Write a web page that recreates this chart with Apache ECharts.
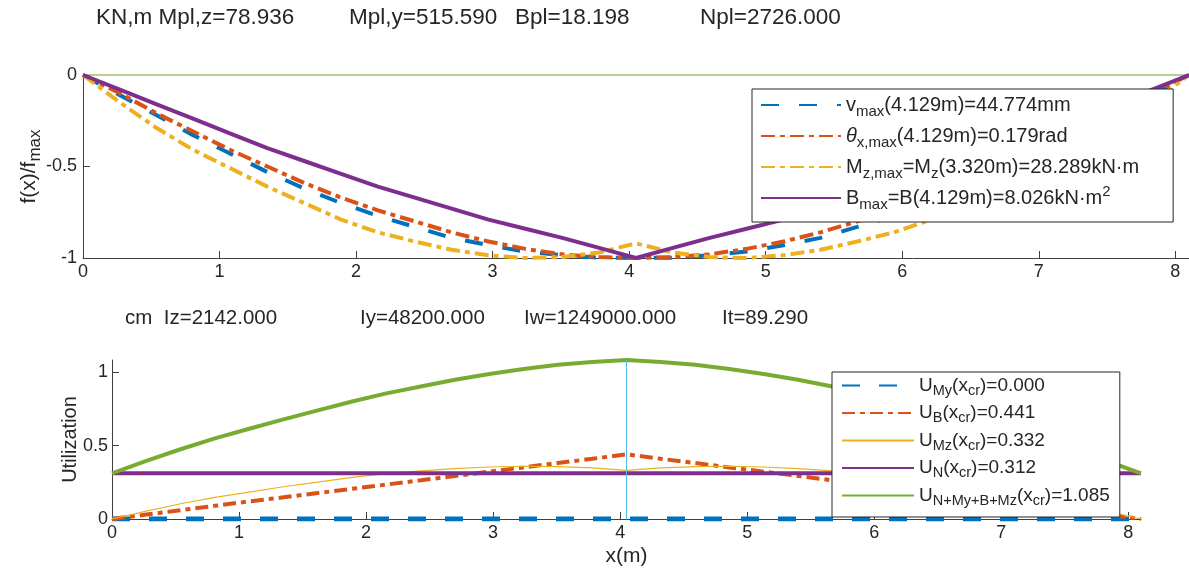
<!DOCTYPE html>
<html>
<head>
<meta charset="utf-8">
<script src="https://cdn.jsdelivr.net/npm/echarts@6/dist/echarts.min.js"></script>
<style>
  html, body { margin: 0; padding: 0; background: #fff; }
  #chart { width: 1189px; height: 570px; }
</style>
</head>
<body>
<div id="chart"></div>
<script>
// Stations along the member (m)
const xs = [0, 0.27, 0.54, 0.81, 1.08, 1.35, 1.62, 1.89, 2.16, 2.43, 2.70, 2.97, 3.24, 3.51, 3.78, 4.05,
            4.32, 4.59, 4.86, 5.13, 5.40, 5.67, 5.94, 6.21, 6.48, 6.75, 7.02, 7.29, 7.56, 7.83, 8.10];

// Normalised response f(x)/f_max
const vNorm     = [0, -0.11, -0.22, -0.33, -0.43, -0.53, -0.62, -0.70, -0.77, -0.83, -0.89, -0.93, -0.965, -0.985, -0.998, -1,
                   -0.998, -0.985, -0.965, -0.93, -0.89, -0.83, -0.77, -0.70, -0.62, -0.53, -0.43, -0.33, -0.22, -0.11, 0];
const thetaNorm = [0, -0.10, -0.21, -0.31, -0.41, -0.50, -0.59, -0.67, -0.74, -0.80, -0.86, -0.91, -0.95, -0.98, -0.995, -1,
                   -0.995, -0.98, -0.95, -0.91, -0.86, -0.80, -0.74, -0.67, -0.59, -0.50, -0.41, -0.31, -0.21, -0.10, 0];
const mzNorm    = [0, -0.15, -0.29, -0.41, -0.51, -0.61, -0.70, -0.79, -0.86, -0.91, -0.955, -0.985, -1.0, -0.995, -0.97, -0.92,
                   -0.97, -0.995, -1.0, -0.985, -0.955, -0.91, -0.86, -0.79, -0.70, -0.61, -0.51, -0.41, -0.29, -0.15, 0];
const bNorm     = [0, -0.08, -0.16, -0.24, -0.32, -0.40, -0.47, -0.54, -0.61, -0.67, -0.73, -0.79, -0.84, -0.89, -0.945, -1.0,
                   -0.945, -0.89, -0.84, -0.79, -0.73, -0.67, -0.61, -0.54, -0.47, -0.40, -0.32, -0.24, -0.16, -0.08, 0];
const zeroRef   = [0, 0, 0, 0, 0, 0, 0, 0, 0, 0, 0, 0, 0, 0, 0, 0, 0, 0, 0, 0, 0, 0, 0, 0, 0, 0, 0, 0, 0, 0, 0];

// Utilization ratios
const uMy  = [0, 0, 0, 0, 0, 0, 0, 0, 0, 0, 0, 0, 0, 0, 0, 0, 0, 0, 0, 0, 0, 0, 0, 0, 0, 0, 0, 0, 0, 0, 0];
const uB   = [0, 0.03, 0.06, 0.09, 0.12, 0.148, 0.177, 0.206, 0.235, 0.264, 0.294, 0.323, 0.352, 0.382, 0.411, 0.441,
              0.411, 0.382, 0.352, 0.323, 0.294, 0.264, 0.235, 0.206, 0.177, 0.148, 0.12, 0.09, 0.06, 0.03, 0];
const uMz  = [0, 0.054, 0.104, 0.148, 0.184, 0.22, 0.252, 0.284, 0.31, 0.328, 0.344, 0.355, 0.36, 0.358, 0.349, 0.332,
              0.349, 0.358, 0.36, 0.355, 0.344, 0.328, 0.31, 0.284, 0.252, 0.22, 0.184, 0.148, 0.104, 0.054, 0];
const uN   = [0.312, 0.312, 0.312, 0.312, 0.312, 0.312, 0.312, 0.312, 0.312, 0.312, 0.312, 0.312, 0.312, 0.312, 0.312, 0.312,
              0.312, 0.312, 0.312, 0.312, 0.312, 0.312, 0.312, 0.312, 0.312, 0.312, 0.312, 0.312, 0.312, 0.312, 0.312];
const uTot = [0.312, 0.396, 0.476, 0.55, 0.616, 0.68, 0.741, 0.802, 0.857, 0.904, 0.95, 0.99, 1.024, 1.052, 1.072, 1.085,
              1.072, 1.052, 1.024, 0.99, 0.95, 0.904, 0.857, 0.802, 0.741, 0.68, 0.616, 0.55, 0.476, 0.396, 0.312];

// Critical section and axis ticks
const xCr = 4.05;
const xTicks = [0, 1, 2, 3, 4, 5, 6, 7, 8];
const yTicksTop = [-1, -0.5, 0];
const yTicksBottom = [0, 0.5, 1];

// Header lines with section properties
const headerTop = [
  { text: 'KN,m Mpl,z=78.936', x: 96 },
  { text: 'Mpl,y=515.590', x: 349 },
  { text: 'Bpl=18.198', x: 515 },
  { text: 'Npl=2726.000', x: 700 }
];
const headerBottom = [
  { text: 'cm  Iz=2142.000', x: 125 },
  { text: 'Iy=48200.000', x: 360 },
  { text: 'Iw=1249000.000', x: 524 },
  { text: 'It=89.290', x: 722 }
];

// Legend entries (rich text with sub/superscripts)
const legendTop = {
  v: 'v{s|max}(4.129m)=44.774mm',
  theta: '{i|θ}{s|x,max}(4.129m)=0.179rad',
  Mz: 'M{s|z,max}=M{s|z}(3.320m)=28.289kN·m',
  B: 'B{s|max}=B(4.129m)=8.026kN·m{p|2}'
};
const legendBottom = {
  UMy: 'U{s|My}(x{s|cr})=0.000',
  UB: 'U{s|B}(x{s|cr})=0.441',
  UMz: 'U{s|Mz}(x{s|cr})=0.332',
  UN: 'U{s|N}(x{s|cr})=0.312',
  UTot: 'U{s|N+My+B+Mz}(x{s|cr})=1.085'
};

const FONT = '"Liberation Sans", Arial, Helvetica, sans-serif';
const INK = '#262626';
const AXIS = '#404040';
const C = { blue: '#0072BD', orange: '#D95319', yellow: '#EDB120', purple: '#7E2F8E', green: '#77AC30', cyan: '#4DBEEE' };

const pts = (vals) => xs.map((x, i) => [x, vals[i]]);

function richSet(base, sub, subLH) {
  return {
    s: { fontFamily: FONT, color: INK, fontSize: sub, lineHeight: subLH, verticalAlign: 'bottom' },
    p: { fontFamily: FONT, color: INK, fontSize: sub, lineHeight: subLH, verticalAlign: 'top' },
    i: { fontFamily: FONT, color: INK, fontSize: base, fontStyle: 'italic' },
    t: { fontFamily: FONT, color: INK, fontSize: base }
  };
}

function xAxisCfg(grid, name) {
  return {
    gridIndex: grid, type: 'value', min: 0, max: 8.1,
    name: name || '', nameLocation: 'middle', nameGap: 27, nameMoveOverlap: false,
    nameTextStyle: { fontFamily: FONT, fontSize: 21, color: INK },
    axisLine: { show: true, onZero: false, lineStyle: { color: AXIS, width: 1 } },
    axisTick: { show: true, inside: true, length: 7, customValues: xTicks, lineStyle: { color: AXIS } },
    axisLabel: { customValues: xTicks, fontFamily: FONT, fontSize: 18, color: INK, margin: 5 },
    splitLine: { show: false }
  };
}

function yAxisCfg(grid, min, max, ticks, name, gap, margin, nameStyle) {
  return {
    gridIndex: grid, type: 'value', min: min, max: max,
    name: name, nameLocation: 'middle', nameGap: gap, nameMoveOverlap: false,
    nameTextStyle: nameStyle,
    axisLine: { show: true, onZero: false, lineStyle: { color: AXIS, width: 1 } },
    axisTick: { show: true, inside: true, length: 7, customValues: ticks, lineStyle: { color: AXIS } },
    axisLabel: { customValues: ticks, fontFamily: FONT, fontSize: 18, color: INK, margin: margin },
    splitLine: { show: false }
  };
}

function line(name, xi, data, color, width, type, extra) {
  return Object.assign({
    name: name, type: 'line', xAxisIndex: xi, yAxisIndex: xi,
    data: pts(data), symbol: 'none', smooth: false, silent: true,
    lineStyle: { color: color, width: width, type: type || 'solid', cap: 'butt' },
    itemStyle: { color: color },
    emphasis: { disabled: true }
  }, extra || {});
}

const headerText = (items, y, size) => items.map(h => ({
  type: 'text', x: h.x, y: y, silent: true,
  style: { text: h.text, fontFamily: FONT, fontSize: size, fill: INK, verticalAlign: 'middle' }
}));

const chart = echarts.init(document.getElementById('chart'), null, { renderer: 'canvas' });

chart.setOption({
  animation: false,
  backgroundColor: '#fff',
  grid: [
    { left: 83, top: 75, width: 1110, height: 183 },
    { left: 112, top: 360, width: 1029, height: 159 }
  ],
  xAxis: [xAxisCfg(0), xAxisCfg(1, 'x(m)')],
  yAxis: [
    yAxisCfg(0, -1, 0, yTicksTop, '{t|f(x)/f}{s|max}', 39, 6,
      { fontFamily: FONT, fontSize: 21, color: INK, lineHeight: 30, rich: richSet(21, 17, 14) }),
    yAxisCfg(1, 0, 1.085, yTicksBottom, 'Utilization', 32, 4,
      { fontFamily: FONT, fontSize: 20, color: INK })
  ],
  legend: [
    {
      data: ['v', 'theta', 'Mz', 'B'], selectedMode: false,
      orient: 'vertical', left: 752, top: 89, padding: [2, 34, 10, 8], itemGap: 3,
      itemWidth: 80, itemHeight: 14,
      itemStyle: { opacity: 0 },
      borderColor: INK, borderWidth: 1, borderRadius: 0, backgroundColor: '#fff',
      textStyle: { fontFamily: FONT, fontSize: 20, color: INK, lineHeight: 28, rich: richSet(20, 15, 12) },
      formatter: n => legendTop[n]
    },
    {
      data: ['UMy', 'UB', 'UMz', 'UN', 'UTot'], selectedMode: false,
      orient: 'vertical', left: 832, top: 372, padding: [1, 10, 9, 9], itemGap: 2.5,
      itemWidth: 72, itemHeight: 14,
      itemStyle: { opacity: 0 },
      borderColor: INK, borderWidth: 1, borderRadius: 0, backgroundColor: '#fff',
      textStyle: { fontFamily: FONT, fontSize: 19, color: INK, lineHeight: 25, rich: richSet(19, 14.5, 10) },
      formatter: n => legendBottom[n]
    }
  ],
  graphic: headerText(headerTop, 18, 22.5).concat(headerText(headerBottom, 318, 20.5)),
  series: [
    line('zero', 0, zeroRef, 'rgba(119,172,48,0.55)', 2),
    line('v', 0, vNorm, C.blue, 4, [18, 20]),
    line('theta', 0, thetaNorm, C.orange, 4, [14, 5, 5, 5]),
    line('Mz', 0, mzNorm, C.yellow, 4, [14, 5, 5, 5]),
    line('B', 0, bNorm, C.purple, 4),

    line('UMy', 1, uMy, C.blue, 5, [18, 19]),
    line('UB', 1, uB, C.orange, 4, [13, 5, 5, 5]),
    line('UMz', 1, uMz, C.yellow, 1.2),
    line('UN', 1, uN, C.purple, 4),
    line('UTot', 1, uTot, C.green, 4, 'solid', {
      markLine: {
        silent: true, symbol: ['none', 'none'], label: { show: false },
        lineStyle: { color: C.cyan, width: 1, type: 'solid' },
        emphasis: { disabled: true },
        data: [{ xAxis: xCr }]
      }
    })
  ]
});
</script>
</body>
</html>
